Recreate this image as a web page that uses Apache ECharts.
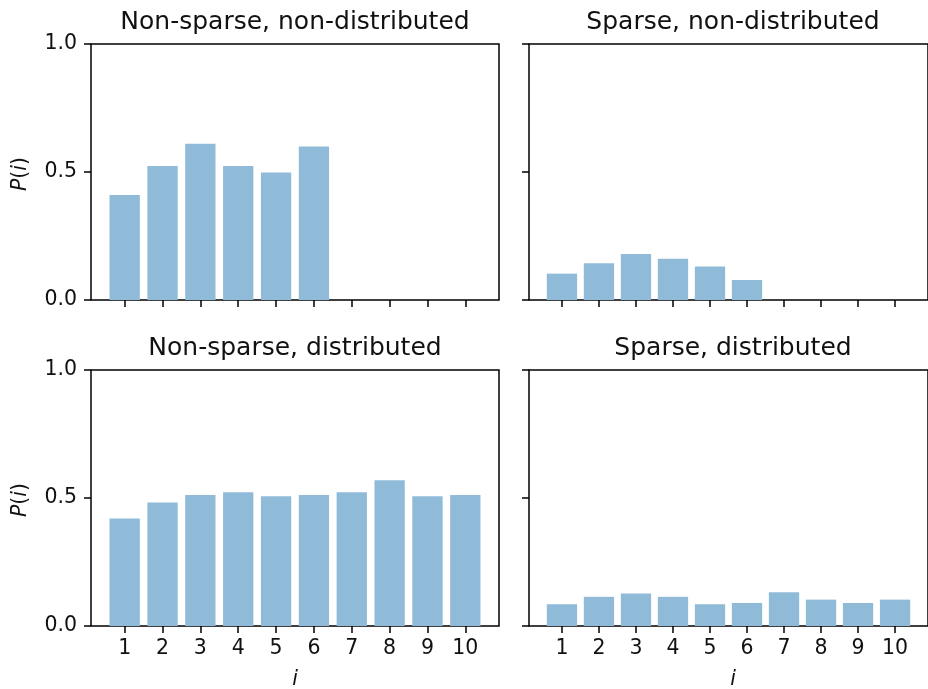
<!DOCTYPE html>
<html>
<head>
<meta charset="utf-8">
<script src="https://cdn.jsdelivr.net/npm/echarts@6/dist/echarts.min.js"></script>
<style>
  html, body { margin: 0; padding: 0; background: #fff; }
  #chart { width: 928px; height: 689px; }
</style>
</head>
<body>
<div id="chart"></div>
<script>
// Positions i along the x axis and their tick labels
const categories = [1, 2, 3, 4, 5, 6, 7, 8, 9, 10];
const tickLabels = ['1', '2', '3', '4', '5', '6', '7', '8', '9', '10'];
const yTicks = [0, 0.5, 1.0];

// P(i) for each configuration
const nonSparseNonDistributed = [0.41, 0.523, 0.61, 0.523, 0.498, 0.60];
const sparseNonDistributed = [0.103, 0.144, 0.18, 0.161, 0.131, 0.078];
const nonSparseDistributed = [0.42, 0.482, 0.512, 0.522, 0.507, 0.512, 0.522, 0.569, 0.507, 0.512];
const sparseDistributed = [0.085, 0.114, 0.127, 0.114, 0.085, 0.09, 0.132, 0.103, 0.09, 0.103];

const panelTitles = [
  'Non-sparse, non-distributed',
  'Sparse, non-distributed',
  'Non-sparse, distributed',
  'Sparse, distributed'
];
const panelValues = [nonSparseNonDistributed, sparseNonDistributed, nonSparseDistributed, sparseDistributed];

const FONT = 'DejaVu Sans';
const BAR_COLOR = '#8fbbd9';
const TEXT = '#111';
const TICK_FS = 20.5;

// Panel layout (2x2), each axes box 408 x 256 px
const panels = [
  { left: 91, top: 44, showX: false, showY: true },
  { left: 529, top: 44, showX: false, showY: false },
  { left: 91, top: 370, showX: true, showY: true },
  { left: 529, top: 370, showX: true, showY: false }
];
const W = 408, H = 256;
const X_MIN = 0.11, X_MAX = 10.89;

const grids = [], xAxes = [], yAxes = [], series = [], graphics = [];

panels.forEach((p, idx) => {
  grids.push({
    left: p.left, top: p.top, width: W, height: H,
    show: true, borderColor: '#000', borderWidth: 1.5,
    backgroundColor: 'transparent'
  });
  xAxes.push({
    type: 'value', gridIndex: idx, min: X_MIN, max: X_MAX,
    splitLine: { show: false },
    axisLine: { show: false },
    axisTick: { show: true, inside: false, length: 7, customValues: categories,
                lineStyle: { color: '#000', width: 1.5 } },
    axisLabel: { show: p.showX, customValues: categories, margin: 12,
                 formatter: v => tickLabels[categories.indexOf(Math.round(v))] || '',
                 color: TEXT, fontFamily: FONT, fontSize: TICK_FS }
  });
  yAxes.push({
    type: 'value', gridIndex: idx, min: yTicks[0], max: yTicks[yTicks.length - 1], interval: 0.5,
    splitLine: { show: false },
    axisLine: { show: false },
    axisTick: { show: true, inside: false, length: 7,
                lineStyle: { color: '#000', width: 1.5 } },
    axisLabel: { show: p.showY, margin: 14,
                 formatter: v => Number(v).toFixed(1),
                 color: TEXT, fontFamily: FONT, fontSize: TICK_FS }
  });
  const vals = panelValues[idx];
  series.push({
    type: 'bar', xAxisIndex: idx, yAxisIndex: idx,
    data: vals.map((v, k) => [categories[k], v]),
    barWidth: 30.3,
    itemStyle: { color: BAR_COLOR },
    silent: true
  });
  // Panel title
  graphics.push({
    type: 'text', silent: true,
    style: {
      text: panelTitles[idx], x: p.left + W / 2, y: p.top - 21.5,
      align: 'center', verticalAlign: 'middle',
      font: '25px "' + FONT + '"', fill: TEXT
    }
  });
  // y-axis name P(i)
  if (p.showY) {
    graphics.push({
      type: 'text', silent: true, rotation: Math.PI / 2,
      x: 21, y: p.top + H / 2 + 2,
      style: {
        text: '{it|P}{n|(}{it|i}{n|)}', x: 0, y: 0,
        align: 'center', verticalAlign: 'middle',
        rich: {
          it: { fontFamily: FONT, fontStyle: 'italic', fontSize: TICK_FS, fill: TEXT },
          n: { fontFamily: FONT, fontSize: TICK_FS, fill: TEXT }
        }
      }
    });
  }
  // x-axis name i
  if (p.showX) {
    graphics.push({
      type: 'text', silent: true,
      style: {
        text: 'i', x: p.left + W / 2, y: p.top + H + 54,
        align: 'center', verticalAlign: 'middle',
        font: 'italic ' + TICK_FS + 'px "' + FONT + '"', fill: TEXT
      }
    });
  }
});

const chart = echarts.init(document.getElementById('chart'), null, { renderer: 'canvas' });
chart.setOption({
  animation: false,
  backgroundColor: '#fff',
  grid: grids,
  xAxis: xAxes,
  yAxis: yAxes,
  series: series,
  graphic: graphics
});
</script>
</body>
</html>
